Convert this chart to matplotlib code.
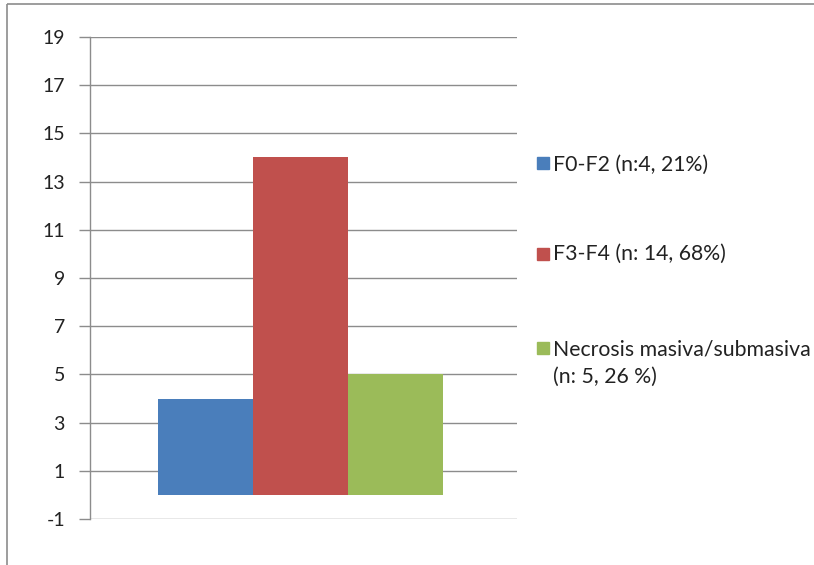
import matplotlib
matplotlib.use("Agg")
import matplotlib.pyplot as plt
from matplotlib.patches import Rectangle
from matplotlib.lines import Line2D

plt.rcParams['font.family'] = ['Lato', 'DejaVu Sans']

series = ["F0-F2 (n:4, 21%)", "F3-F4 (n: 14, 68%)", "Necrosis masiva/submasiva\n(n: 5, 26 %)"]
values = [4, 14, 5]
colors = ["#4A7EBB", "#C0504D", "#9BBB59"]
yticks = [-1, 1, 3, 5, 7, 9, 11, 13, 15, 17, 19]

W, H = 814, 565
fig = plt.figure(figsize=(W/100, H/100), dpi=100)
ax = fig.add_axes([90/W, 1-519/H, 427/W, (519-37)/H])

width = 0.222
offsets = [-width, 0, width]
for off, v, c in zip(offsets, values, colors):
    ax.bar(-0.007 + off, v, width=width, color=c, edgecolor='none', zorder=3)

ax.set_xlim(-0.5, 0.5)
ax.set_ylim(-1, 19)
ax.set_yticks(yticks)
ax.set_yticklabels([str(t) for t in yticks], fontsize=14, color='#222222')
ax.set_xticks([])
ax.yaxis.grid(True, color='#8c8c8c', linewidth=1.0, zorder=0)
for s in ['top', 'right', 'bottom']:
    ax.spines[s].set_visible(False)
ax.spines['left'].set_color('#8c8c8c')
ax.spines['left'].set_linewidth(1.0)
ax.tick_params(axis='y', length=8, width=1.0, color='#8c8c8c', pad=10)

# manual legend (square centres and first-line baselines in pixels)
sq_centres = [163, 254, 348]
baselines = [171, 260, 356]
line_step = 27
for lbl, c, yc, yb in zip(series, colors, sq_centres, baselines):
    fig.patches.append(Rectangle((537/W, 1-(yc+6)/H), 12/W, 12/H,
                                 transform=fig.transFigure, color=c, figure=fig))
    for i, line in enumerate(lbl.split("\n")):
        fig.text(553/W, 1-(yb + i*line_step)/H, line, fontsize=15.3, color='#222222',
                 va='baseline', ha='left')

# outer border (left and top)
fig.add_artist(Line2D([7/W, 7/W], [0, 1-4/H], transform=fig.transFigure, color='#8c8c8c',
                      linewidth=1.2, solid_capstyle='butt'))
fig.add_artist(Line2D([7/W, 1], [1-4/H, 1-4/H], transform=fig.transFigure, color='#8c8c8c',
                      linewidth=1.2, solid_capstyle='butt'))

fig.savefig("out.png", dpi=100)
